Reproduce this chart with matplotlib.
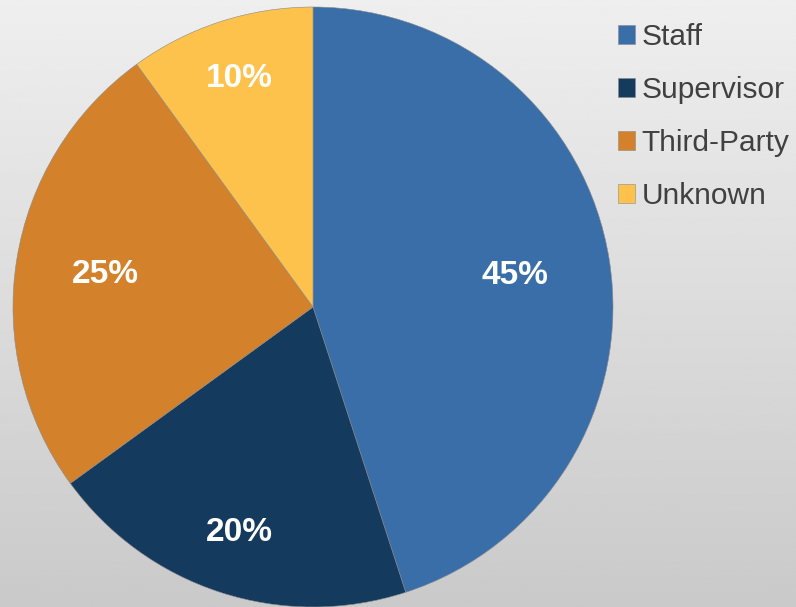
import numpy as np
import matplotlib
matplotlib.use("Agg")
import matplotlib.pyplot as plt

# share of cases by category
categories = ["Staff", "Supervisor", "Third-Party", "Unknown"]
shares = [45, 20, 25, 10]
colors = ["#3a6ea8", "#143a5e", "#d3812a", "#fdc24c"]
# how far out each percentage sits (fraction of radius)
label_dist = [0.68, 0.79, 0.70, 0.80]

W, H = 796, 607
fig = plt.figure(figsize=(W / 100, H / 100), dpi=100)
ax = fig.add_axes([0, 0, 1, 1])

# grey backdrop, lighter at the top
grad = np.linspace(0.935, 0.79, 256).reshape(-1, 1)
ax.imshow(grad, cmap="gray", vmin=0, vmax=1, extent=[0, W, 0, H],
          origin="upper", aspect="auto", zorder=0)

cx, cy, r = 313, H - 307, 300
wedges, texts, autotexts = ax.pie(
    shares, colors=colors, startangle=90, counterclock=False,
    center=(cx, cy), radius=r, frame=True,
    autopct=lambda p: f"{p:.0f}%",
    wedgeprops=dict(edgecolor="#8a8a8a", linewidth=0.4),
    textprops=dict(color="white", fontsize=24, fontweight="bold",
                   family="Liberation Sans"))
ax.set_xlim(0, W)
ax.set_ylim(0, H)
ax.set_aspect("equal")
ax.axis("off")
for w, t, d in zip(wedges, autotexts, label_dist):
    ang = np.deg2rad((w.theta1 + w.theta2) / 2)
    t.set_position((cx + d * r * np.cos(ang), cy + d * r * np.sin(ang)))
    t.set_zorder(5)

leg = ax.legend(wedges, categories, loc="upper left",
                bbox_to_anchor=(594 / W, 1 + 1 / H),
                bbox_transform=fig.transFigure, frameon=False,
                prop=dict(family="Liberation Sans", size=21.5),
                handlelength=0.58, handleheight=0.58, handletextpad=0.22,
                labelspacing=0.84, borderpad=0.3)
for txt in leg.get_texts():
    txt.set_color("#404040")

fig.savefig("out.png", dpi=100)
